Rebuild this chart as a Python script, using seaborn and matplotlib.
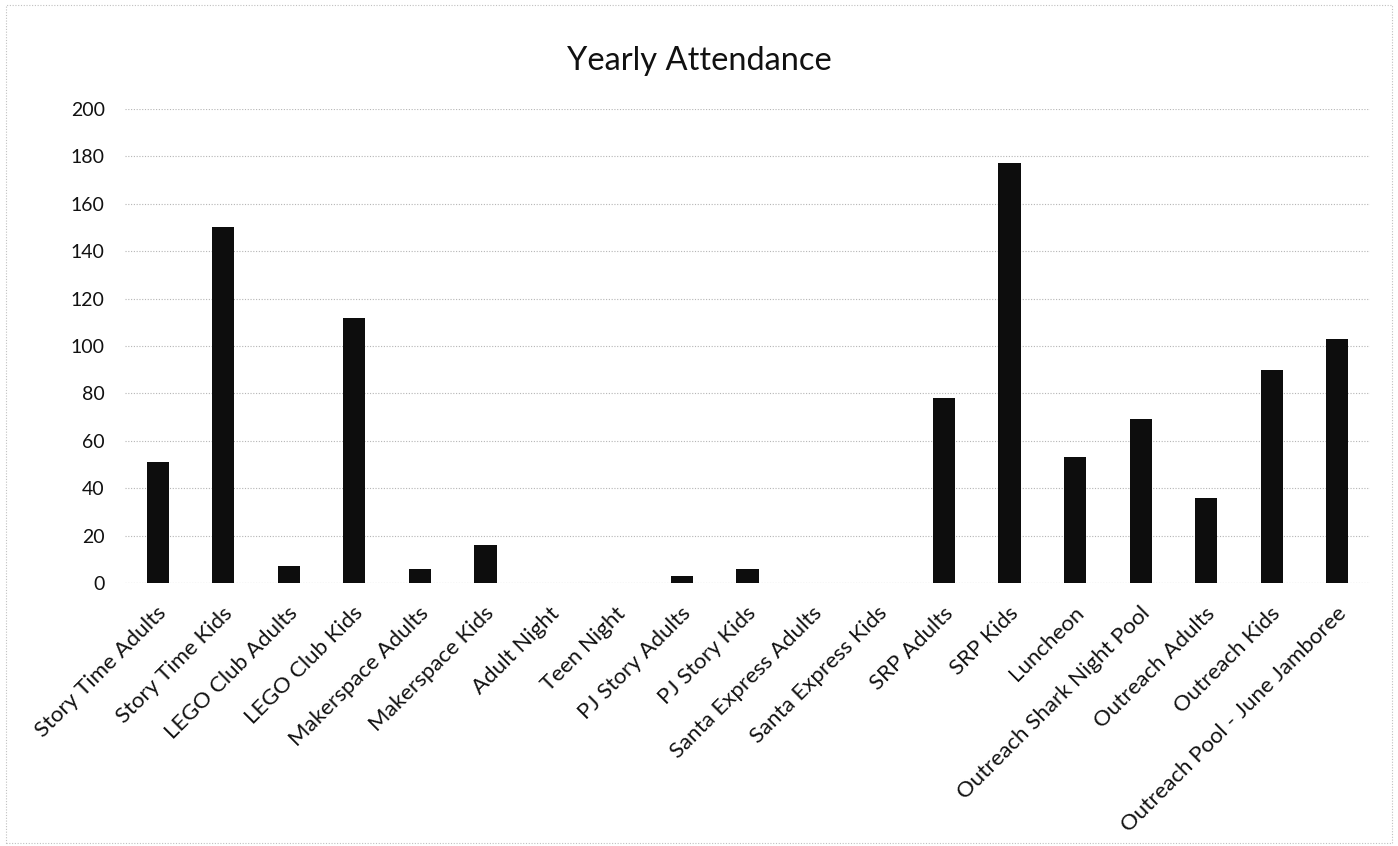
import matplotlib
matplotlib.use("Agg")
import matplotlib.pyplot as plt
import matplotlib.transforms as mtransforms
import seaborn as sns
import pandas as pd

programs = [
    "Story Time Adults", "Story Time Kids", "LEGO Club Adults", "LEGO Club Kids",
    "Makerspace Adults", "Makerspace Kids", "Adult Night", "Teen Night",
    "PJ Story Adults", "PJ Story Kids", "Santa Express Adults", "Santa Express Kids",
    "SRP Adults", "SRP Kids", "Luncheon", "Outreach Shark Night Pool",
    "Outreach Adults", "Outreach Kids", "Outreach Pool - June Jamboree",
]
attendance = [51, 150, 7, 112, 6, 16, 0, 0, 3, 6, 0, 0, 78, 177, 53, 69, 36, 90, 103]
y_ticks = [0, 20, 40, 60, 80, 100, 120, 140, 160, 180, 200]

sns.set_theme(style="white")
plt.rcParams["font.family"] = ["Lato", "DejaVu Sans"]

df = pd.DataFrame({"program": programs, "attendance": attendance})

fig = plt.figure(figsize=(13.98, 8.46), dpi=100)
ax = fig.add_axes([0.0894, 0.3109, 0.8906, 0.5603])

sns.barplot(data=df, x="program", y="attendance", color="#0d0d0d",
            width=0.34, saturation=1, ax=ax, zorder=3)
for p in ax.patches:
    p.set_edgecolor("none")

ax.set_ylim(0, 200)
ax.set_yticks(y_ticks)
ax.set_yticklabels([str(v) for v in y_ticks], fontsize=14, color="#111111")
ax.set_xlim(-0.5, len(programs) - 0.5)
ax.grid(axis="y", color="#b5b5b5", linestyle=(0, (1, 1.5)), linewidth=0.8, zorder=0)
ax.grid(axis="x", visible=False)
for s in ax.spines.values():
    s.set_visible(False)
ax.axhline(0, color="#c8c8c8", linewidth=0.8, linestyle=(0, (1, 1.5)), zorder=1)
ax.tick_params(axis="y", length=0, pad=14.5)
ax.tick_params(axis="x", length=0, pad=14.5)

ax.set_xlabel("")
ax.set_ylabel("")
offset = mtransforms.ScaledTranslation(-1 / 72, 0, fig.dpi_scale_trans)
ax.set_xticks(range(len(programs)))
ax.set_xticklabels(programs, rotation=45, ha="right", rotation_mode="anchor",
                   fontsize=16, color="#111111")
for lbl in ax.get_xticklabels():
    lbl.set_transform(lbl.get_transform() + offset)

fig.text(0.5, 0.928, "Yearly Attendance", ha="center", va="center",
         fontsize=23.5, color="#111111")

# light frame around the chart area
frame = plt.Rectangle((0.004, 0.004), 0.992, 0.99, transform=fig.transFigure,
                      fill=False, edgecolor="#c0c0c0", linewidth=0.8,
                      linestyle=(0, (1, 1.5)))
fig.add_artist(frame)

fig.savefig("out.png", dpi=100, facecolor="white")
